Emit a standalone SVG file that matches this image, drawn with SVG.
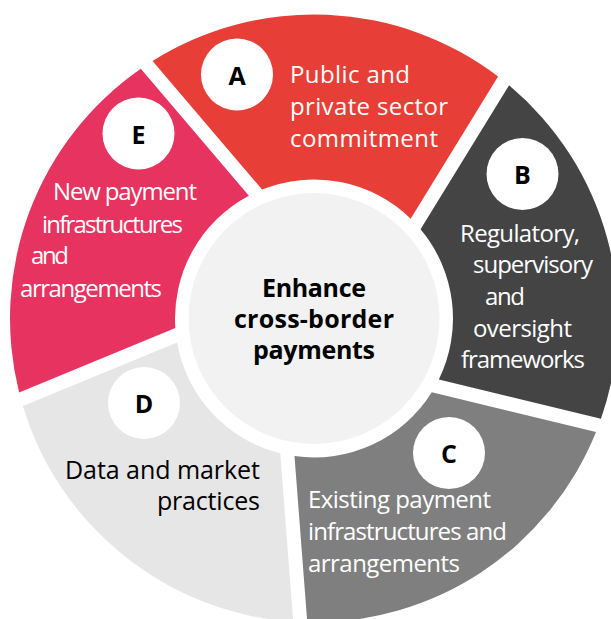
<svg xmlns="http://www.w3.org/2000/svg" xmlns:xlink="http://www.w3.org/1999/xlink" width="611" height="619" viewBox="0 0 611 619">
<style>
.badge{fill:#ffffff}
.letter{font-family:"Open Sans","Noto Sans","Liberation Sans",sans-serif;font-weight:700;font-size:25px;text-anchor:middle;fill:#000000}
.lbl{font-family:"Open Sans","Noto Sans","Liberation Sans",sans-serif;font-size:24px;fill:#ffffff}
.lbl-dark{fill:#000000;font-size:25px}
.core-text{font-family:"Open Sans","Noto Sans","Liberation Sans",sans-serif;font-weight:700;font-size:25px;text-anchor:middle;fill:#000000}
</style>
<defs>
<path id="seg" d="M152.56,60.92 A304,304 0 0 1 498.06,76.58 L410.67,218.63 A139,139 0 0 0 262.06,189.58 Z"/>
</defs>
<rect width="611" height="619" fill="#ffffff"/>

<g id="node-A">
<use href="#seg" xlink:href="#seg" fill="#E73F37"/>
<circle class="badge" cx="237" cy="74.5" r="36"/>
<text class="letter" x="237" y="84.5">A</text>
<text class="lbl" x="290" y="83" textLength="120">Public and</text>
<text class="lbl" x="290" y="115" textLength="158">private sector</text>
<text class="lbl" x="290" y="147" textLength="148">commitment</text>
</g>

<g id="node-B">
<use href="#seg" xlink:href="#seg" fill="#444444" transform="rotate(72 314 318.5)"/>
<circle class="badge" cx="522.5" cy="174" r="36"/>
<text class="letter" x="522.5" y="184">B</text>
<text class="lbl" x="460" y="242" textLength="120">Regulatory,</text>
<text class="lbl" x="473" y="273" textLength="120">supervisory</text>
<text class="lbl" x="485" y="305" textLength="40">and</text>
<text class="lbl" x="473" y="337" textLength="99">oversight</text>
<text class="lbl" x="461" y="368" textLength="124">frameworks</text>
</g>

<g id="node-C">
<use href="#seg" xlink:href="#seg" fill="#7F7F7F" transform="rotate(144 314 318.5)"/>
<circle class="badge" cx="449" cy="453" r="36"/>
<text class="letter" x="449" y="463">C</text>
<text class="lbl" x="308" y="508" textLength="183">Existing payment</text>
<text class="lbl" x="308" y="540" textLength="199">infrastructures and</text>
<text class="lbl" x="308" y="572" textLength="152">arrangements</text>
</g>

<g id="node-D">
<use href="#seg" xlink:href="#seg" fill="#E6E6E6" transform="rotate(216 314 318.5)"/>
<circle class="badge" cx="144" cy="403" r="36"/>
<text class="letter" x="144" y="413">D</text>
<text class="lbl lbl-dark" x="65" y="479" textLength="195">Data and market</text>
<text class="lbl lbl-dark" x="157" y="510" textLength="103">practices</text>
</g>

<g id="node-E">
<use href="#seg" xlink:href="#seg" fill="#E6335F" transform="rotate(288 314 318.5)"/>
<circle class="badge" cx="138.5" cy="133.5" r="36"/>
<text class="letter" x="138.5" y="143.5">E</text>
<text class="lbl" x="53" y="200" textLength="144">New payment</text>
<text class="lbl" x="42" y="233" textLength="141">infrastructures</text>
<text class="lbl" x="31" y="264" textLength="38">and</text>
<text class="lbl" x="20" y="297" textLength="142">arrangements</text>
</g>

<g id="node-center">
<circle cx="314" cy="318.5" r="125.5" fill="#F2F2F2"/>
<text class="core-text" x="314" y="297" textLength="104">Enhance</text>
<text class="core-text" x="314" y="328" textLength="160">cross-border</text>
<text class="core-text" x="314" y="359" textLength="122">payments</text>
</g>
</svg>
